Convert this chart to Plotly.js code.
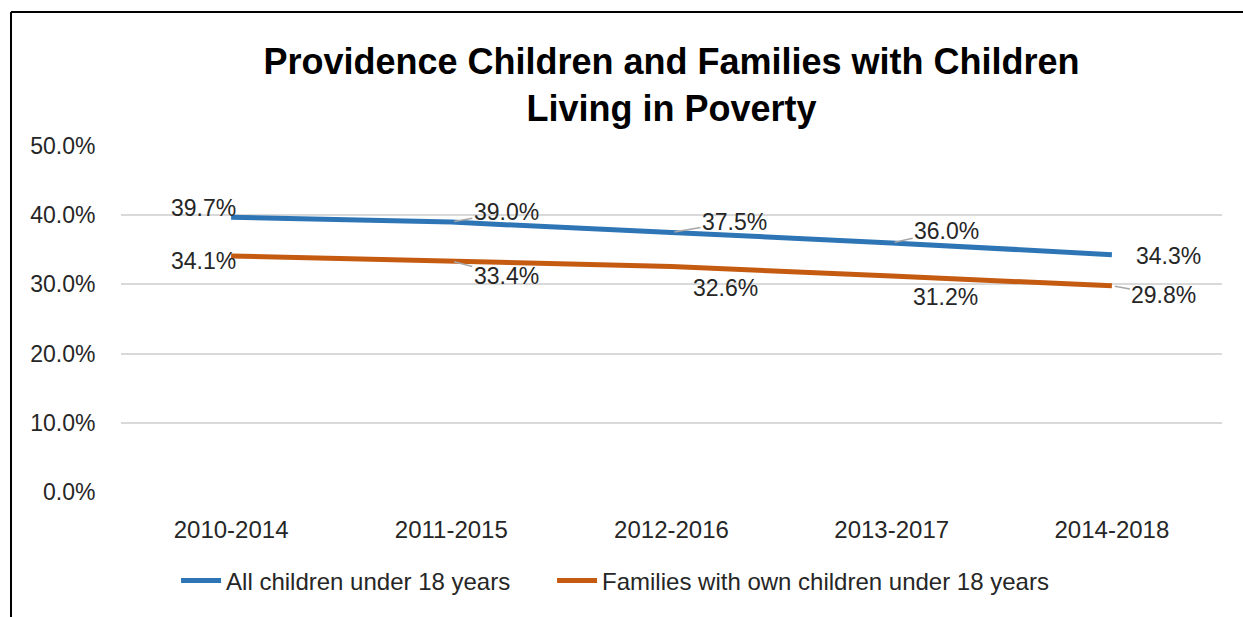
<!DOCTYPE html>
<html>
<head>
<meta charset="utf-8">
<script src="https://cdn.plot.ly/plotly-3.0.1.min.js"></script>
<style>
  html, body { margin: 0; padding: 0; background: #ffffff; }
  #chart { width: 1243px; height: 617px; }
</style>
</head>
<body>
<div id="chart"></div>
<script>
// ---- Data ----
const periods = ["2010-2014", "2011-2015", "2012-2016", "2013-2017", "2014-2018"];
const allChildren = [0.397, 0.390, 0.375, 0.360, 0.343];
const familiesWithChildren = [0.341, 0.334, 0.326, 0.312, 0.298];
const seriesNames = ["All children under 18 years", "Families with own children under 18 years"];
const titleText = "Providence Children and Families with Children<br>Living in Poverty";

// ---- Label placement (pixel offsets of label centre from its point) ----
const offsetsAll = [[-28, -9], [55, -10], [63, -11], [55, -12], [57, 1]];
const leadersAll = [false, true, true, true, false];
const offsetsFam = [[-28, 5], [55, 15], [54, 22], [54, 21], [52, 9]];
const leadersFam = [false, true, false, false, true];

const FONT = '"Liberation Sans", Arial, sans-serif';
const TEXT = '#262626';
const BLUE = '#2E75B6';
const ORANGE = '#C55A11';

function makeLabels(values, offsets, leaders) {
  return values.map((v, i) => ({
    x: periods[i], y: v, xref: 'x', yref: 'y',
    text: (v * 100).toFixed(1) + '%',
    showarrow: true, arrowhead: 0, arrowwidth: 1.5,
    arrowcolor: leaders[i] ? '#a6a6a6' : 'rgba(0,0,0,0)',
    ax: offsets[i][0], ay: offsets[i][1], standoff: 3,
    font: { family: FONT, size: 23, color: TEXT }
  }));
}

const traces = [
  { type: 'scatter', mode: 'lines', name: seriesNames[0], x: periods, y: allChildren,
    line: { color: BLUE, width: 5 }, legend: 'legend' },
  { type: 'scatter', mode: 'lines', name: seriesNames[1], x: periods, y: familiesWithChildren,
    line: { color: ORANGE, width: 5 }, legend: 'legend2' }
];

const legendBase = {
  orientation: 'h', xanchor: 'left', y: -0.257, yanchor: 'middle',
  font: { family: FONT, size: 24, color: TEXT }, itemwidth: 40,
  bgcolor: 'rgba(0,0,0,0)'
};

const layout = {
  width: 1243, height: 617,
  margin: { l: 121, r: 21, t: 146, b: 125 },
  paper_bgcolor: '#ffffff', plot_bgcolor: '#ffffff',
  font: { family: FONT, color: TEXT, size: 23 },
  title: {
    text: titleText, x: 0.5, xref: 'paper', xanchor: 'center',
    y: 1 - 74 / 617, yref: 'container', yanchor: 'middle',
    font: { family: FONT, size: 36, color: '#000000', weight: 'bold' }
  },
  xaxis: {
    type: 'category', range: [-0.5, 4.5], fixedrange: true,
    showgrid: false, zeroline: false, showline: false,
    ticks: 'outside', ticklen: 16, tickcolor: 'rgba(0,0,0,0)',
    tickfont: { family: FONT, size: 24, color: TEXT }
  },
  yaxis: {
    range: [0, 0.5], dtick: 0.1, tick0: 0, tickformat: '.1%',
    showgrid: true, gridcolor: '#d9d9d9', gridwidth: 2,
    zeroline: false, showline: false,
    ticks: 'outside', ticklen: 20, tickcolor: 'rgba(0,0,0,0)',
    tickfont: { family: FONT, size: 23, color: TEXT }
  },
  showlegend: true,
  legend: Object.assign({}, legendBase, { x: 0.05 }),
  legend2: Object.assign({}, legendBase, { x: 0.3915 }),
  annotations: [].concat(
    makeLabels(allChildren, offsetsAll, leadersAll),
    makeLabels(familiesWithChildren, offsetsFam, leadersFam)
  ),
  shapes: [
    { type: 'line', xref: 'paper', yref: 'paper', x0: -0.0999, x1: -0.0999, y0: -0.4, y1: 1.387,
      line: { color: '#000000', width: 2 } },
    { type: 'line', xref: 'paper', yref: 'paper', x0: -0.0999, x1: 1.03, y0: 1.387, y1: 1.387,
      line: { color: '#000000', width: 2 } }
  ]
};

Plotly.newPlot('chart', traces, layout, { displayModeBar: false, staticPlot: true });
</script>
</body>
</html>
